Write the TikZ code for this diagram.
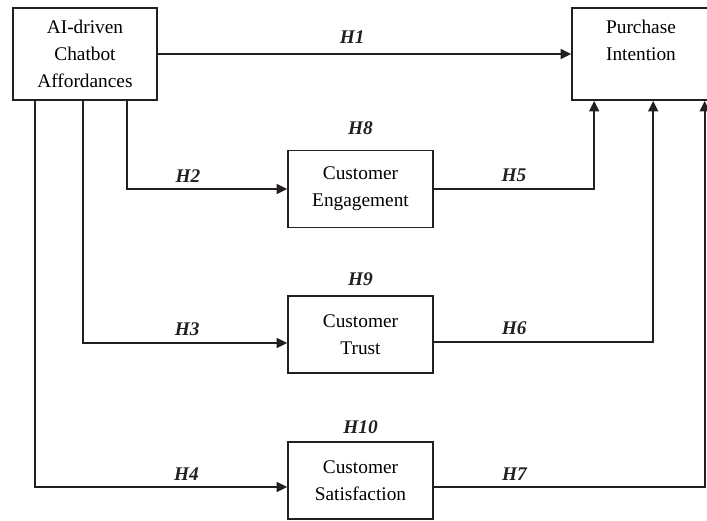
\documentclass[tikz,border=0pt]{standalone}
\usepackage{fontspec}
\setmainfont{Liberation Serif}
\usepackage{tikz}
\usetikzlibrary{arrows.meta, positioning, calc}
\definecolor{inkgray}{RGB}{35,31,32}
\tikzstyle{var} = [rectangle, draw=inkgray, line width=0.9pt, minimum width=2.90cm,
                   minimum height=1.54cm, align=center, inner sep=0pt,
                   font=\fontsize{11}{15.3}\selectfont]
\tikzstyle{hyp} = [font=\fontsize{11}{13}\selectfont\bfseries\itshape, text=inkgray]
\tikzstyle{arr} = [-{Triangle[length=6pt, width=5.5pt]}, line width=1.3pt, draw=inkgray]

\begin{document}
\begin{tikzpicture}
    \useasboundingbox (0,0) rectangle (14.14,-10.42);
    \node[var, minimum width=2.88cm, minimum height=1.84cm] (ai) at (1.70,-1.08)
         {AI-driven\\Chatbot\\Affordances};
    \node[var, minimum width=2.76cm, minimum height=1.84cm] (pi) at (12.82,-1.08)
         {Purchase\\Intention\\\phantom{A}};
    \node[var] (eng) at (7.21,-3.78) {Customer\\Engagement};
    \node[var] (tru) at (7.21,-6.69) {Customer\\Trust};
    \node[var] (sat) at (7.21,-9.61) {Customer\\Satisfaction};

    \node[hyp, above=0.18cm of eng] (h8) {H8};
    \node[hyp, above=0.06cm of tru] (h9) {H9};
    \node[hyp, above=0.02cm of sat] (h10) {H10};

    % feet under the two outer boxes
    \coordinate (a4) at ($(ai.south west)+(0.46,0)$);
    \coordinate (a3) at ($(ai.south west)+(1.42,0)$);
    \coordinate (a2) at ($(ai.south west)+(2.30,0)$);
    \coordinate (p5) at ($(pi.south west)+(0.46,0)$);
    \coordinate (p6) at ($(pi.south west)+(1.64,0)$);
    \coordinate (p7) at ($(pi.south west)+(2.67,0)$);

    \draw[arr] (ai) -- node[hyp, pos=0.47, above=0.08cm] {H1} (pi);
    \draw[arr] (a2) |- node[hyp, pos=0.69, above] {H2} (eng.west);
    \draw[arr] (a3) |- node[hyp, pos=0.755, above] {H3} ([yshift=-0.17cm]tru.west);
    \draw[arr] (a4) |- node[hyp, pos=0.80, above] {H4} ([yshift=-0.13cm]sat.west);
    \draw[arr] (eng.east) -| node[hyp, pos=0.25, above] {H5} (p5);
    \draw[arr] ([yshift=-0.15cm]tru.east) -| node[hyp, pos=0.183, above] {H6} (p6);
    \draw[arr] ([yshift=-0.13cm]sat.east) -| node[hyp, pos=0.149, above] {H7} (p7);
\end{tikzpicture}
\end{document}
